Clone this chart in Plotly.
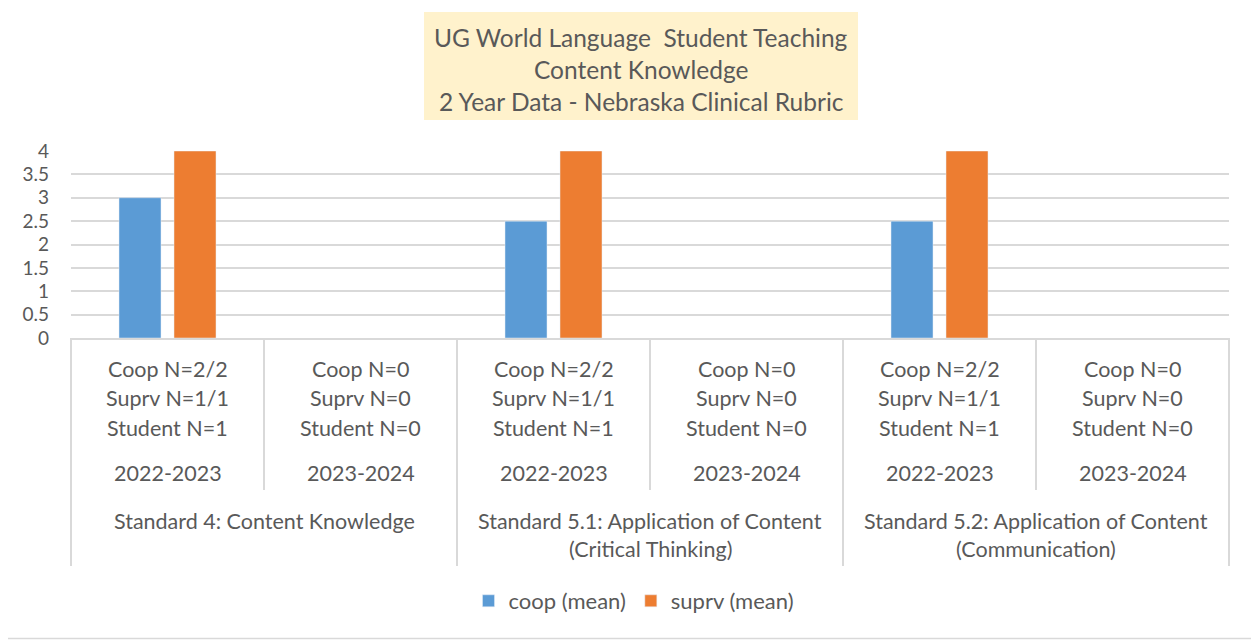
import plotly.graph_objects as go

# ---- data ----
standards = [
    "Standard 4: Content Knowledge",
    "Standard 5.1: Application of Content<br>(Critical Thinking)",
    "Standard 5.2: Application of Content<br>(Communication)",
]
years = ["2022-2023", "2023-2024"]
coop_n = ["Coop N=2/2", "Coop N=0", "Coop N=2/2", "Coop N=0", "Coop N=2/2", "Coop N=0"]
suprv_n = ["Suprv N=1/1", "Suprv N=0", "Suprv N=1/1", "Suprv N=0", "Suprv N=1/1", "Suprv N=0"]
student_n = ["Student N=1", "Student N=0", "Student N=1", "Student N=0", "Student N=1", "Student N=0"]
coop_mean = [3, None, 2.5, None, 2.5, None]
suprv_mean = [4, None, 4, None, 4, None]
y_ticks = [0, 0.5, 1, 1.5, 2, 2.5, 3, 3.5, 4]
title_lines = ["UG World Language  Student Teaching", "Content Knowledge",
               "2 Year Data - Nebraska Clinical Rubric"]

# ---- layout geometry (reference pixels; page adds an 8px body margin) ----
OFF = 8
W, H = 1259 - OFF, 640 - OFF
L, R, T, B = 71 - OFF, 1229 - OFF, 151 - OFF, 338 - OFF
PW, PH = R - L, B - T
FONT = "Lato"
TXT = "#595959"
GRID = "#D9D9D9"


def px(x):
    return (x - OFF - L) / PW


def py(y):
    return (B - (y - OFF)) / PH


n_cat = len(coop_n)
xs = list(range(n_cat))
cat_w = PW / n_cat
bar_w = 42 / cat_w

fig = go.Figure()
fig.add_trace(go.Bar(x=xs, y=coop_mean, name="coop (mean)", marker_color="#5B9BD5",
                     width=bar_w, offset=-48.5 / cat_w))
fig.add_trace(go.Bar(x=xs, y=suprv_mean, name="suprv (mean)", marker_color="#ED7D31",
                     width=bar_w, offset=6.5 / cat_w))

LBL = 21.5
ann = []
shapes = []
# category labels
for i in range(n_cat):
    for txt, yy in [(coop_n[i], 369), (suprv_n[i], 398), (student_n[i], 428),
                    (years[i % 2], 473)]:
        ann.append(dict(x=i, xref="x", y=py(yy), yref="paper", text=txt, showarrow=False,
                        font=dict(family=FONT, size=LBL, color=TXT),
                        xanchor="center", yanchor="middle"))
for j, s in enumerate(standards):
    lines = s.split("<br>")
    for k, ln in enumerate(lines):
        ann.append(dict(x=2 * j + 0.5, xref="x", y=py(521 + 28 * k), yref="paper", text=ln,
                        showarrow=False, font=dict(family=FONT, size=LBL, color=TXT),
                        xanchor="center", yanchor="middle"))

# dividers
for i in range(n_cat + 1):
    xp = (i * cat_w) / PW
    ybot = 566 if i % 2 == 0 else 490
    shapes.append(dict(type="line", xref="paper", yref="paper", x0=xp, x1=xp,
                       y0=0, y1=py(ybot), line=dict(color=GRID, width=2)))

# title box
shapes.append(dict(type="rect", xref="paper", yref="paper", x0=px(424), x1=px(858),
                   y0=py(120), y1=py(12), fillcolor="#FFF2CC", line=dict(width=0),
                   layer="below"))
for k, t in enumerate(title_lines):
    ann.append(dict(x=px(641), xref="paper", y=py(37 + 32 * k), yref="paper", text=t,
                    showarrow=False, font=dict(family=FONT, size=24.5, color=TXT),
                    xanchor="center", yanchor="middle"))

# outer border (right and bottom edges)
shapes.append(dict(type="line", xref="paper", yref="paper", x0=px(1257.5), x1=px(1257.5),
                   y0=py(639), y1=py(8), line=dict(color=GRID, width=1.5)))
shapes.append(dict(type="line", xref="paper", yref="paper", x0=px(8), x1=px(1258),
                   y0=py(638.5), y1=py(638.5), line=dict(color=GRID, width=1.5)))

fig.update_layout(
    width=W, height=H,
    margin=dict(l=L, r=W - R, t=T, b=H - B, pad=0),
    paper_bgcolor="white", plot_bgcolor="white",
    showlegend=True,
    legend=dict(orientation="h", x=px(634), xanchor="center", y=py(601), yanchor="middle",
                font=dict(family=FONT, size=22, color=TXT), traceorder="normal"),
    xaxis=dict(range=[-0.5, n_cat - 0.5], showticklabels=False, showgrid=False,
               zeroline=False, showline=True, linecolor=GRID, linewidth=2, fixedrange=True),
    yaxis=dict(range=[0, 4], tickvals=y_ticks, ticktext=[f"{v:g}" for v in y_ticks],
               showgrid=True, gridcolor=GRID, gridwidth=1.5, zeroline=False,
               showline=False, ticks="", ticklabelstandoff=21,
               tickfont=dict(family=FONT, size=19, color=TXT)),
    annotations=ann, shapes=shapes,
    font=dict(family=FONT, color=TXT),
)

fig.write_html("out.html")
